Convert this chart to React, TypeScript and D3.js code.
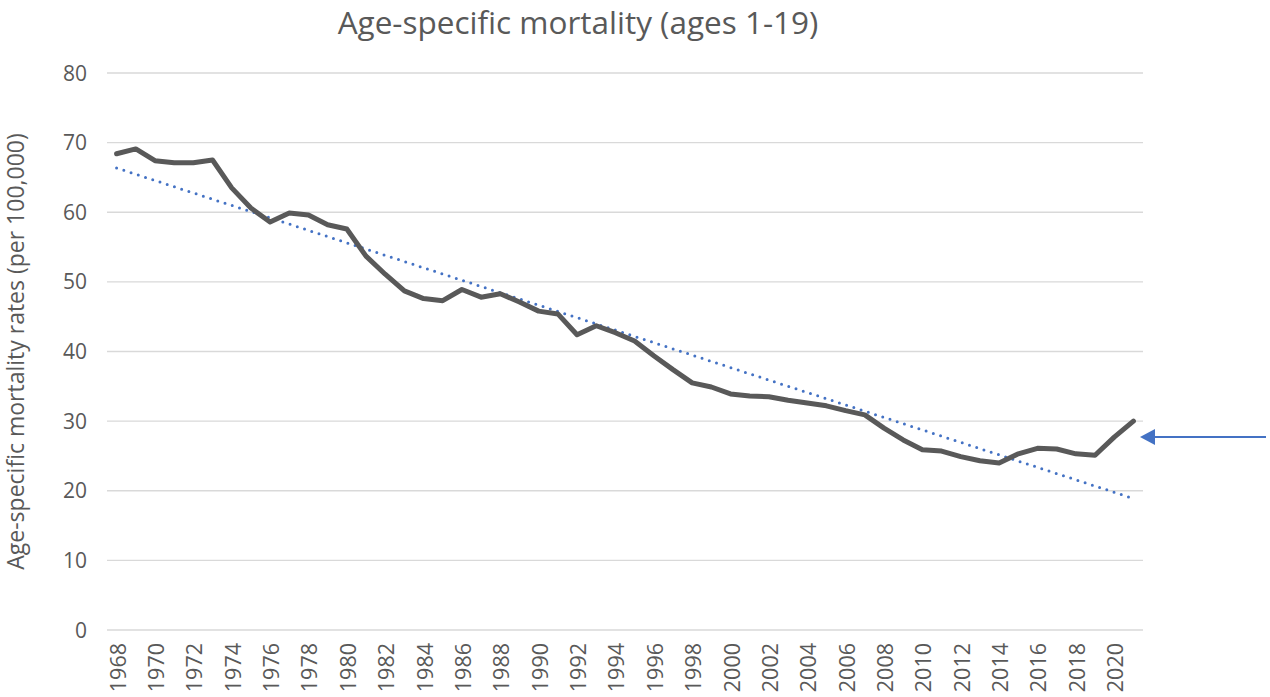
import React, { useEffect, useRef } from 'react'
import * as d3 from 'd3'

// years 1968..2021
const years: number[] = d3.range(1968, 2022)

// age-specific mortality, ages 1-19, per 100,000
const rates: number[] = [
  68.4, 69.1, 67.4, 67.1, 67.1, 67.5, 63.5, 60.6, 58.6, 59.9,
  59.6, 58.2, 57.6, 53.7, 51.1, 48.7, 47.6, 47.3, 48.9, 47.8,
  48.3, 47.1, 45.8, 45.4, 42.4, 43.7, 42.7, 41.5, 39.4, 37.4,
  35.5, 34.9, 33.9, 33.6, 33.5, 33.0, 32.6, 32.2, 31.5, 30.9,
  29.0, 27.3, 25.9, 25.7, 24.9, 24.3, 24.0, 25.3, 26.1, 26.0,
  25.3, 25.1, 27.7, 30.0,
]

const yTicks: number[] = [0, 10, 20, 30, 40, 50, 60, 70, 80]

const width = 1270
const height = 697

const App: React.FC = () => {
  const svgRef = useRef<SVGSVGElement>(null)

  useEffect(() => {
    if (!svgRef.current) return
    const svg = d3.select(svgRef.current)
    svg.selectAll('*').remove()

    const margin = { top: 73, right: 127, bottom: 67, left: 107 }
    const font = "'Open Sans', 'Liberation Sans', sans-serif"
    const grey = '#595959'

    const x = d3
      .scaleBand<number>()
      .domain(years)
      .range([margin.left, width - margin.right])
    const cx = (yr: number) => (x(yr) ?? 0) + x.bandwidth() / 2

    const y = d3
      .scaleLinear()
      .domain([0, 80])
      .range([height - margin.bottom, margin.top])

    // gridlines
    svg
      .append('g')
      .selectAll('line')
      .data(yTicks)
      .enter()
      .append('line')
      .attr('x1', margin.left)
      .attr('x2', width - margin.right)
      .attr('y1', (d) => y(d))
      .attr('y2', (d) => y(d))
      .attr('stroke', '#d9d9d9')
      .attr('stroke-width', 1.3)

    // y tick labels
    svg
      .append('g')
      .selectAll('text')
      .data(yTicks)
      .enter()
      .append('text')
      .attr('x', 87)
      .attr('y', (d) => y(d))
      .attr('dy', '0.36em')
      .attr('text-anchor', 'end')
      .style('font-family', font)
      .style('font-size', '21px')
      .attr('fill', grey)
      .text((d) => d)

    // x tick labels, every second year
    svg
      .append('g')
      .selectAll('text')
      .data(years.filter((d) => d % 2 === 0))
      .enter()
      .append('text')
      .attr('transform', (d) => `translate(${cx(d) + 9}, 643) rotate(-90)`)
      .attr('text-anchor', 'end')
      .style('font-family', font)
      .style('font-size', '21.5px')
      .attr('fill', grey)
      .text((d) => d)

    // linear trend (least squares)
    const n = years.length
    const mx = d3.mean(years)!
    const my = d3.mean(rates)!
    const slope =
      d3.sum(years, (d, i) => (d - mx) * (rates[i] - my)) /
      d3.sum(years, (d) => (d - mx) ** 2)
    const icpt = my - slope * mx
    const trend = [years[0], years[n - 1]].map((d) => [d, icpt + slope * d])

    const line = d3
      .line<number[]>()
      .x((d) => cx(d[0]))
      .y((d) => y(d[1]))

    svg
      .append('path')
      .datum(trend)
      .attr('d', line)
      .attr('fill', 'none')
      .attr('stroke', '#4472c4')
      .attr('stroke-width', 3)
      .attr('stroke-linecap', 'round')
      .attr('stroke-dasharray', '0 7.6')

    // data line
    svg
      .append('path')
      .datum(years.map((d, i) => [d, rates[i]]))
      .attr('d', line)
      .attr('fill', 'none')
      .attr('stroke', grey)
      .attr('stroke-width', 5)
      .attr('stroke-linejoin', 'round')
      .attr('stroke-linecap', 'round')

    // title
    svg
      .append('text')
      .attr('x', 578)
      .attr('y', 34)
      .attr('text-anchor', 'middle')
      .style('font-family', font)
      .style('font-size', '31.5px')
      .attr('fill', grey)
      .text('Age-specific mortality (ages 1-19)')

    // y axis title
    svg
      .append('text')
      .attr('transform', `translate(24, ${(y(0) + y(80)) / 2}) rotate(-90)`)
      .attr('text-anchor', 'middle')
      .style('font-family', font)
      .style('font-size', '23px')
      .attr('fill', grey)
      .text('Age-specific mortality rates (per 100,000)')

    // annotation arrow pointing at latest value
    const ay = 437
    svg
      .append('line')
      .attr('x1', 1266)
      .attr('x2', 1152)
      .attr('y1', ay)
      .attr('y2', ay)
      .attr('stroke', '#4472c4')
      .attr('stroke-width', 2)
    svg
      .append('path')
      .attr('d', `M1140,${ay} L1155,${ay - 8} L1155,${ay + 8} Z`)
      .attr('fill', '#4472c4')
  }, [])

  return (
    <svg
      ref={svgRef}
      width={width}
      height={height}
      style={{ position: 'absolute', left: 0, top: 0, background: '#fff' }}
    ></svg>
  )
}

export default App
